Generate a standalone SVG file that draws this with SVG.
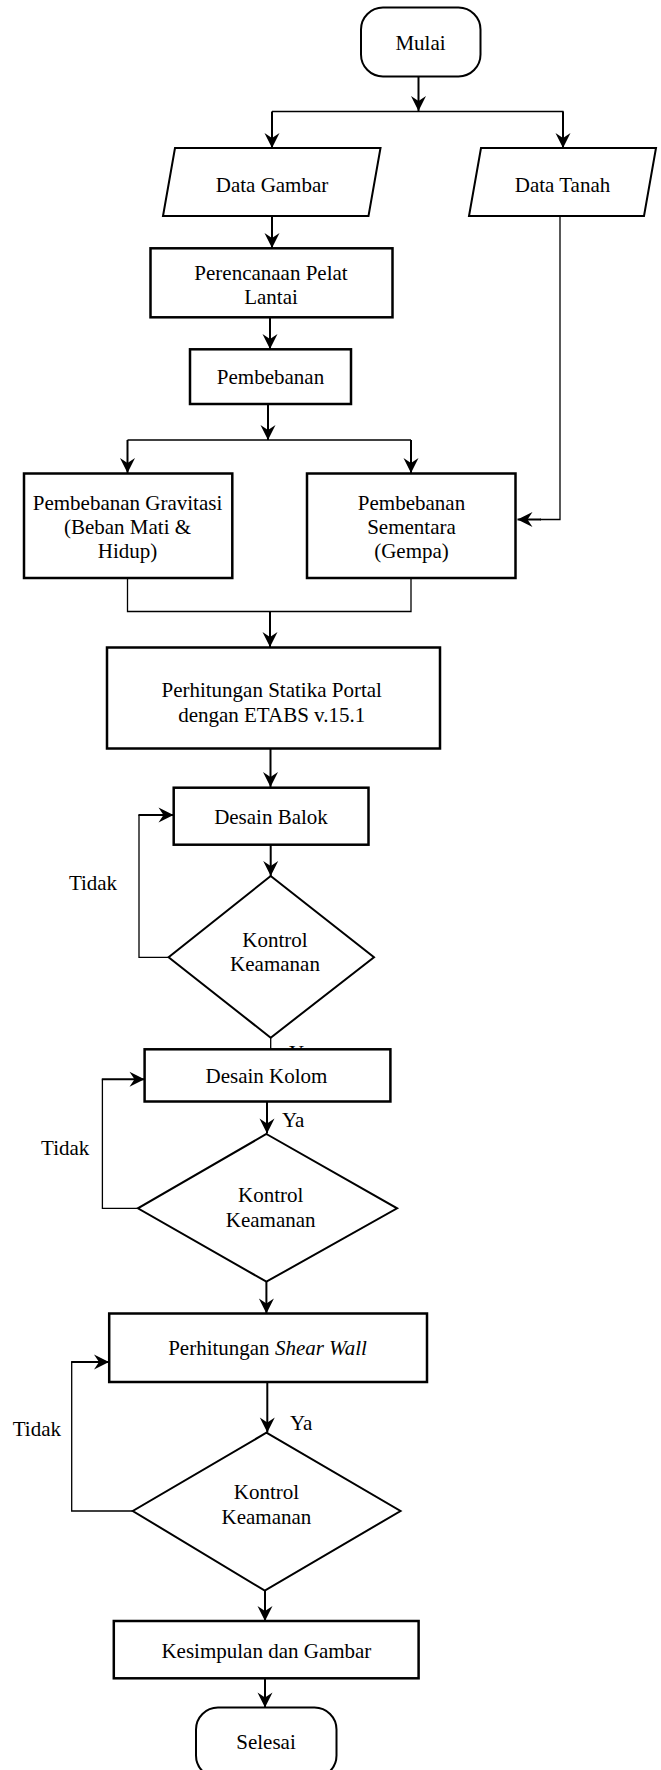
<svg xmlns="http://www.w3.org/2000/svg" width="661" height="1770" viewBox="0 0 661 1770">
<style>
.n{fill:#fff;stroke:#000;stroke-width:2.5}
.d{fill:#fff;stroke:#000;stroke-width:2}
text{font-family:'Liberation Serif','Times New Roman',Times,Tinos,'Noto Serif','DejaVu Serif',serif;font-size:21px;fill:#000}
.t{text-anchor:middle}
.a{fill:none;stroke:#000;stroke-width:2;marker-end:url(#ah)}
.l{fill:none;stroke:#000;stroke-width:1.3}
</style>
<defs>
<marker id="ah" markerUnits="userSpaceOnUse" markerWidth="18" markerHeight="18" refX="15" refY="7.5" orient="auto" overflow="visible">
<path d="M0,0 L15,7.5 L0,15 L5,7.5 z" fill="#000"/>
</marker>
</defs>
<rect width="661" height="1770" fill="#fff"/>
<g id="labels-hidden">
<text x="289" y="1060" font-family="Liberation Serif, serif">Ya</text>
</g>
<g id="connectors">
<path class="a" d="M418.5,77 V111"/>
<path class="l" d="M272,111.5 H563.5"/>
<path class="a" d="M272,111.5 V148"/>
<path class="a" d="M563,111.5 V148"/>
<path class="a" d="M272,216 V248"/>
<path class="l" d="M560,216 V519.5 H540"/>
<path class="a" d="M541,519.5 H517.5"/>
<path class="a" d="M270,317.5 V349"/>
<path class="a" d="M268,405 V440"/>
<path class="l" d="M127.5,440 H411"/>
<path class="a" d="M127.5,440 V473"/>
<path class="a" d="M411,440 V473"/>
<path class="l" d="M127.5,578 V611.5 H411 V578"/>
<path class="a" d="M270,611.5 V647"/>
<path class="a" d="M270.5,748.5 V787"/>
<path class="a" d="M270.7,844.7 V876"/>
<path class="l" d="M168.6,957.3 H139 V815"/>
<path class="a" d="M138.4,815 H173.5"/>
<path class="l" d="M270.7,1037.7 V1049"/>
<path class="a" d="M267,1101.5 V1133.5"/>
<path class="l" d="M137.9,1208.3 H102.4 V1079.3"/>
<path class="a" d="M101.8,1079.3 H144.5"/>
<path class="a" d="M266.4,1281.7 V1313.5"/>
<path class="a" d="M267.3,1382 V1432.5"/>
<path class="l" d="M132.8,1511 H71.7 V1362"/>
<path class="a" d="M71.1,1362 H109"/>
<path class="a" d="M265,1590.7 V1621"/>
<path class="a" d="M265,1678.3 V1707.5"/>
</g>
<g id="mulai">
<rect class="d" x="361" y="7.5" width="119.5" height="69" rx="22" ry="22"/>
<text class="t" x="420.5" y="50">Mulai</text>
</g>
<g id="data-gambar">
<polygon class="d" points="175,148 380.5,148 368.5,216 163,216"/>
<text class="t" x="272" y="191.5">Data Gambar</text>
</g>
<g id="data-tanah">
<polygon class="d" points="481,148 656,148 644,216 469,216"/>
<text class="t" x="562.5" y="191.5">Data Tanah</text>
</g>
<g id="perencanaan">
<rect class="n" x="150.5" y="248.3" width="242" height="69"/>
<text class="t" x="271" y="279.5">Perencanaan Pelat</text>
<text class="t" x="271" y="304">Lantai</text>
</g>
<g id="pembebanan">
<rect class="n" x="190" y="349.3" width="161" height="54.7"/>
<text class="t" x="270.5" y="384">Pembebanan</text>
</g>
<g id="gravitasi">
<rect class="n" x="24" y="473.5" width="208.3" height="104.5"/>
<text class="t" x="127.5" y="509.5">Pembebanan Gravitasi</text>
<text class="t" x="127.5" y="533.8">(Beban Mati &amp;</text>
<text class="t" x="127.5" y="558">Hidup)</text>
</g>
<g id="sementara">
<rect class="n" x="307" y="473.5" width="208.5" height="104.5"/>
<text class="t" x="411.5" y="509.5">Pembebanan</text>
<text class="t" x="411.5" y="533.8">Sementara</text>
<text class="t" x="411.5" y="558">(Gempa)</text>
</g>
<g id="statika">
<rect class="n" x="107" y="647.5" width="333" height="101"/>
<text class="t" x="271.7" y="697.3">Perhitungan Statika Portal</text>
<text class="t" x="271.7" y="721.7">dengan ETABS v.15.1</text>
</g>
<g id="desain-balok">
<rect class="n" x="173.7" y="787.7" width="194.8" height="57"/>
<text class="t" x="271" y="824">Desain Balok</text>
</g>
<g id="kontrol-1">
<polygon class="d" points="270.7,876 374,957.3 270.7,1037.7 168.6,957.3"/>
<text class="t" x="275" y="947">Kontrol</text>
<text class="t" x="275" y="970.5">Keamanan</text>
</g>
<g id="desain-kolom">
<rect class="n" x="144.6" y="1049.3" width="245.8" height="52.2"/>
<text class="t" x="266.5" y="1083">Desain Kolom</text>
</g>
<g id="kontrol-2">
<polygon class="d" points="266.4,1134 397.1,1208.3 266.4,1281.7 137.9,1208.3"/>
<text class="t" x="270.7" y="1202">Kontrol</text>
<text class="t" x="270.7" y="1227">Keamanan</text>
</g>
<g id="shear-wall">
<rect class="n" x="109.2" y="1313.5" width="317.8" height="68.5"/>
<text class="t" x="267.5" y="1355">Perhitungan <tspan font-style="italic">Shear Wall</tspan></text>
</g>
<g id="kontrol-3">
<polygon class="d" points="266.4,1432.7 400.5,1511 264.8,1590.7 132.8,1511"/>
<text class="t" x="266.4" y="1498.7">Kontrol</text>
<text class="t" x="266.4" y="1524.3">Keamanan</text>
</g>
<g id="kesimpulan">
<rect class="n" x="113.8" y="1621" width="304.8" height="57.3"/>
<text class="t" x="266.4" y="1657.7">Kesimpulan dan Gambar</text>
</g>
<g id="selesai">
<rect class="d" x="196" y="1707.5" width="140.5" height="70" rx="22" ry="22"/>
<text class="t" x="266" y="1748.7">Selesai</text>
</g>
<g id="labels">
<text class="t" x="93" y="890">Tidak</text>
<text x="282" y="1126.7">Ya</text>
<text class="t" x="65.2" y="1155">Tidak</text>
<text class="t" x="36.9" y="1436">Tidak</text>
<text x="290" y="1430">Ya</text>
</g>
</svg>
